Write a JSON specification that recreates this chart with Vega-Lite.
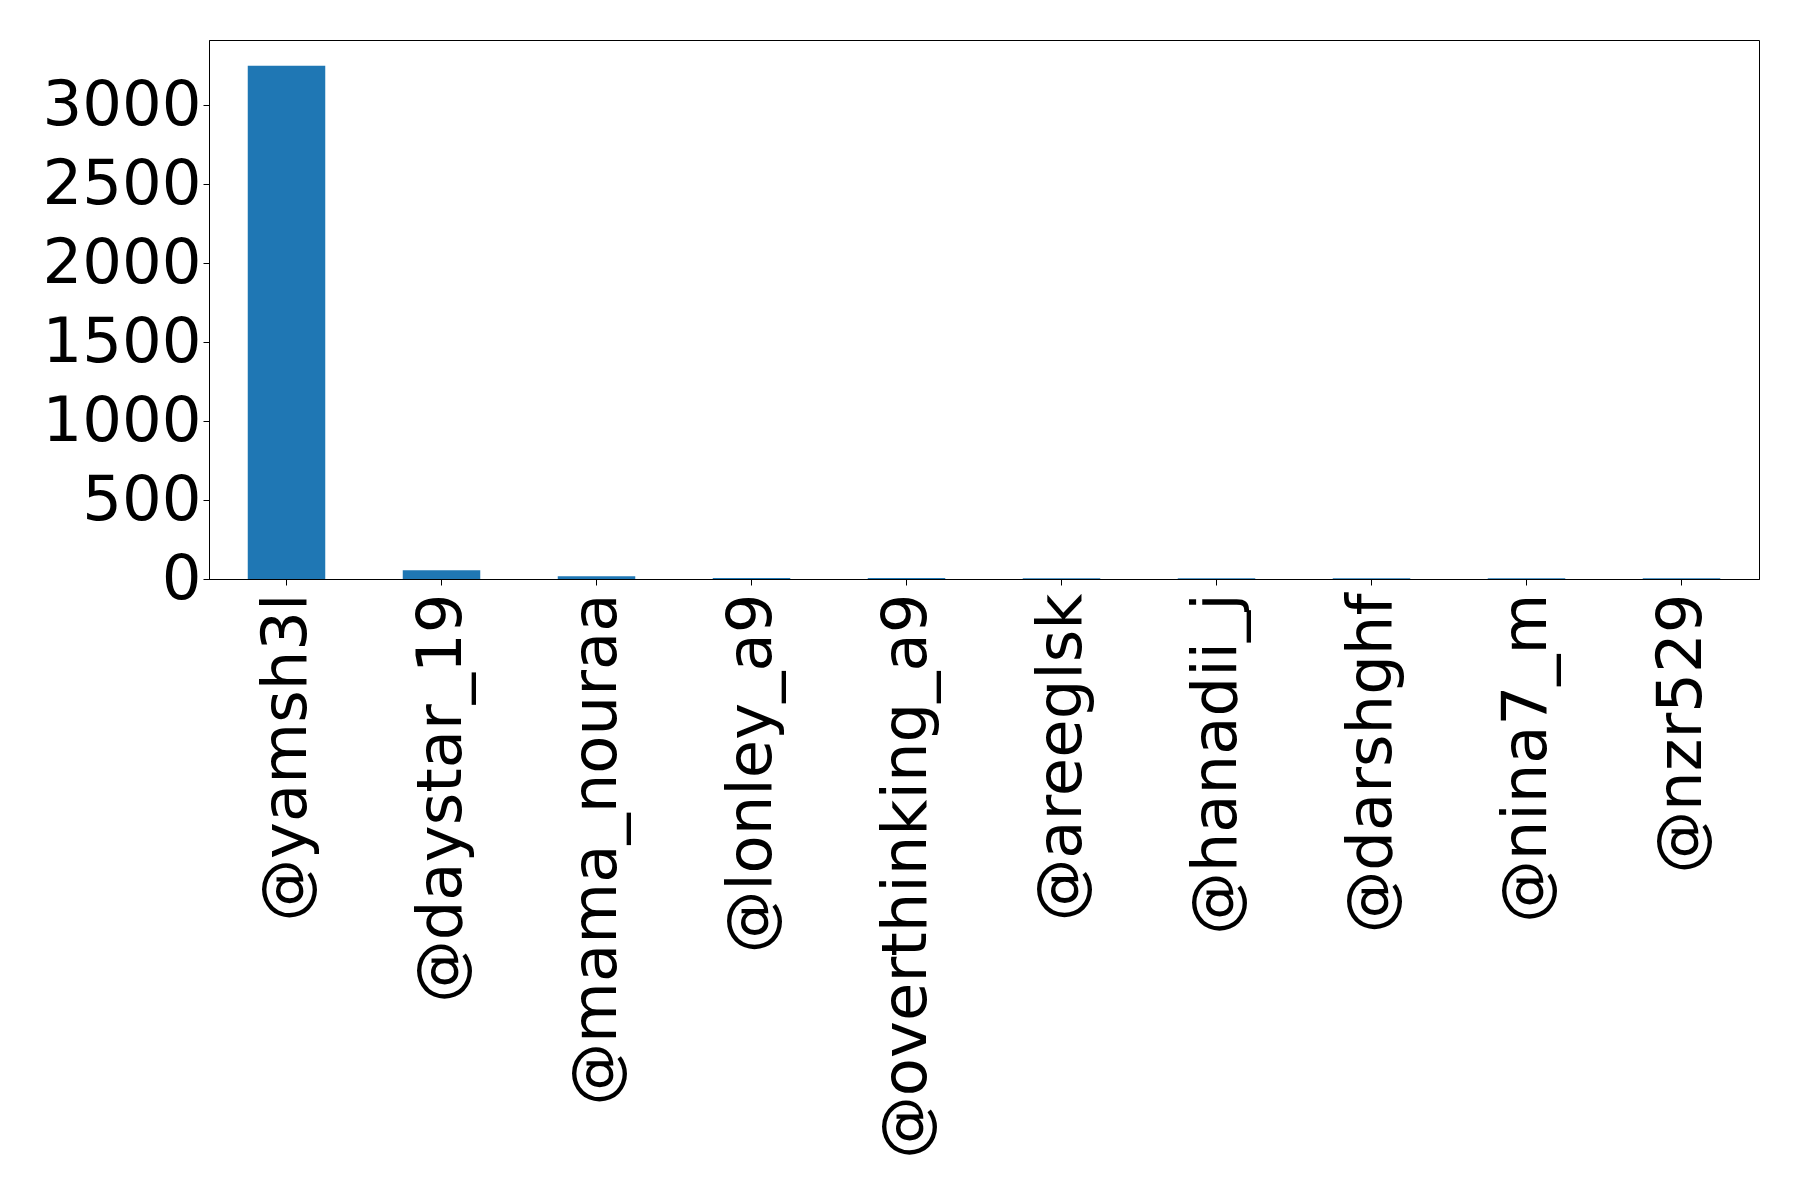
{
  "$schema": "https://vega.github.io/schema/vega-lite/v6.json",
  "autosize": "none",
  "width": 1550,
  "height": 539,
  "padding": {"left": 209, "top": 40, "right": 39, "bottom": 614},
  "background": "white",
  "config": {
    "view": {"stroke": "black", "strokeWidth": 1},
    "font": "DejaVu Sans"
  },
  "data": {
    "values": [
      {"user": "@yamsh3l", "count": 3250},
      {"user": "@daystar_19", "count": 55},
      {"user": "@mama_nouraa", "count": 18},
      {"user": "@lonley_a9", "count": 6},
      {"user": "@overthinking_a9", "count": 6},
      {"user": "@areeglsk", "count": 5},
      {"user": "@hanadii_j", "count": 5},
      {"user": "@darshghf", "count": 5},
      {"user": "@nina7_m", "count": 5},
      {"user": "@nzr529", "count": 5}
    ]
  },
  "mark": {"type": "bar", "color": "#1f77b4"},
  "encoding": {
    "x": {
      "field": "user",
      "type": "nominal",
      "sort": null,
      "scale": {"paddingInner": 0.5, "paddingOuter": 0.25},
      "axis": {
        "title": null,
        "labelAngle": -90,
        "labelAlign": "right",
        "labelBaseline": "middle",
        "labelFont": "DejaVu Sans",
        "labelFontSize": 62.5,
        "labelColor": "black",
        "labelPadding": 8,
        "tickSize": 6,
        "tickColor": "black",
        "domainColor": "black",
        "labelLimit": 1000,
        "grid": false
      }
    },
    "y": {
      "field": "count",
      "type": "quantitative",
      "scale": {"domain": [0, 3413], "nice": false, "zero": true},
      "axis": {
        "title": null,
        "format": "d",
        "values": [0, 500, 1000, 1500, 2000, 2500, 3000],
        "labelFont": "DejaVu Sans",
        "labelFontSize": 62.5,
        "labelColor": "black",
        "labelPadding": 2,
        "tickSize": 6,
        "tickColor": "black",
        "domainColor": "black",
        "grid": false,
        "labelFlush": false
      }
    }
  }
}
